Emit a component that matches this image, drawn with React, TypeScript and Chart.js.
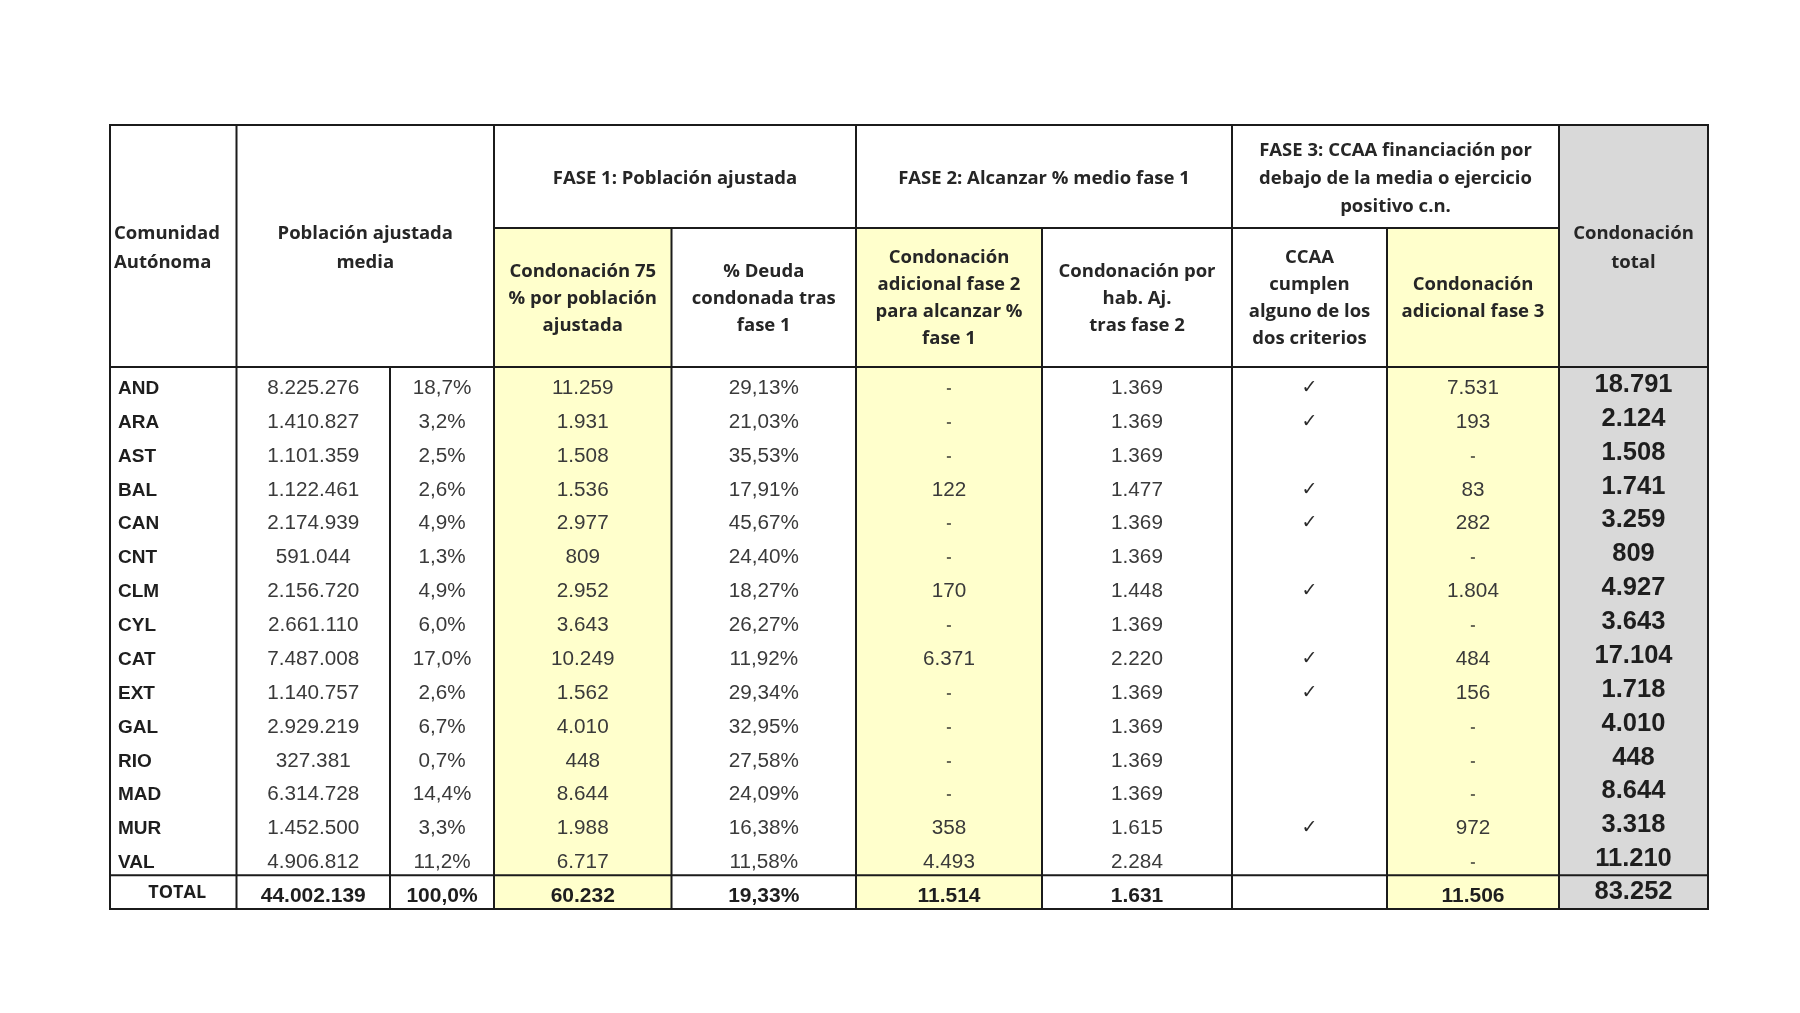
import { useEffect, useRef } from 'react';
import { Chart, registerables } from 'chart.js';

Chart.register(...registerables);

// ---------- DATA ----------
const regions = ['AND', 'ARA', 'AST', 'BAL', 'CAN', 'CNT', 'CLM', 'CYL', 'CAT', 'EXT', 'GAL', 'RIO', 'MAD', 'MUR', 'VAL'];
const poblacionAjustada = [8225276, 1410827, 1101359, 1122461, 2174939, 591044, 2156720, 2661110, 7487008, 1140757, 2929219, 327381, 6314728, 1452500, 4906812];
const pctPoblacion = [18.7, 3.2, 2.5, 2.6, 4.9, 1.3, 4.9, 6.0, 17.0, 2.6, 6.7, 0.7, 14.4, 3.3, 11.2];
const condonacionFase1 = [11259, 1931, 1508, 1536, 2977, 809, 2952, 3643, 10249, 1562, 4010, 448, 8644, 1988, 6717];
const pctDeudaFase1 = [29.13, 21.03, 35.53, 17.91, 45.67, 24.4, 18.27, 26.27, 11.92, 29.34, 32.95, 27.58, 24.09, 16.38, 11.58];
const condonacionFase2 = [null, null, null, 122, null, null, 170, null, 6371, null, null, null, null, 358, 4493];
const condonacionPorHab = [1369, 1369, 1369, 1477, 1369, 1369, 1448, 1369, 2220, 1369, 1369, 1369, 1369, 1615, 2284];
const cumpleCriterios = [true, true, false, true, true, false, true, false, true, true, false, false, false, true, false];
const condonacionFase3 = [7531, 193, null, 83, 282, null, 1804, null, 484, 156, null, null, null, 972, null];
const condonacionTotal = [18791, 2124, 1508, 1741, 3259, 809, 4927, 3643, 17104, 1718, 4010, 448, 8644, 3318, 11210];

const totalLabel = 'TOTAL';
const totalPoblacion = 44002139;
const totalPct = 100.0;
const totalFase1 = 60232;
const totalPctDeuda = 19.33;
const totalFase2 = 11514;
const totalPorHab = 1631;
const totalFase3 = 11506;
const totalCondonacion = 83252;

// header texts
const headComunidad = ['Comunidad', 'Autónoma'];
const headPoblacion = ['Población ajustada', 'media'];
const headFase1 = ['FASE 1: Población ajustada'];
const headFase2 = ['FASE 2: Alcanzar % medio fase 1'];
const headFase3 = ['FASE 3: CCAA financiación por', 'debajo de la media o ejercicio', 'positivo c.n.'];
const headTotal = ['Condonación', 'total'];
const headF1a = ['Condonación 75', '% por población', 'ajustada'];
const headF1b = ['% Deuda', 'condonada tras', 'fase 1'];
const headF2a = ['Condonación', 'adicional fase 2', 'para alcanzar %', 'fase 1'];
const headF2b = ['Condonación por', 'hab. Aj.', 'tras fase 2'];
const headF3a = ['CCAA', 'cumplen', 'alguno de los', 'dos criterios'];
const headF3b = ['Condonación', 'adicional fase 3'];

// ---------- LAYOUT (not data) ----------
const TABLE_W = 1598;
const colEdges = [0, 126.5, 280, 384, 561.5, 746, 932, 1122, 1277, 1449, TABLE_W];
const HEADER_TOP = 242;
const HEADER_MID = 139;
const YELLOW = '#FFFFCC';
const GREY = '#D9D9D9';
const LINE = '#1b1b1b';

const fmtInt = (n: number) => String(Math.round(n)).replace(/\B(?=(\d{3})+(?!\d))/g, '.');
const fmtPct = (v: number, d: number) => v.toFixed(d).replace('.', ',') + '%';

const rowLabels = [...regions, totalLabel];

const tablePlugin = {
  id: 'tablePlugin',
  afterDraw(chart: any) {
    const ctx: CanvasRenderingContext2D = chart.ctx;
    const xs = chart.scales.x;
    const ys = chart.scales.y;
    const X = (i: number) => xs.getPixelForValue(colEdges[i]);
    const CX = (i: number) => (X(i) + X(i + 1)) / 2;
    const area = chart.chartArea;
    const hb = area.top;
    const top = hb - HEADER_TOP;
    const mid = hb - HEADER_MID;
    const bottom = area.bottom;
    const band = ys.getPixelForValue(1) - ys.getPixelForValue(0);
    const totalTop = ys.getPixelForValue(rowLabels.length - 1) - band / 2;

    ctx.save();
    ctx.fillStyle = '#ffffff';
    ctx.fillRect(X(0), top, X(10) - X(0), bottom - top);
    ctx.fillStyle = YELLOW;
    [3, 5, 8].forEach((c) => ctx.fillRect(X(c), mid, X(c + 1) - X(c), bottom - mid));
    ctx.fillStyle = GREY;
    ctx.fillRect(X(9), top, X(10) - X(9), bottom - top);

    const headFont = 'bold 18.5px "Open Sans", Lato, sans-serif';
    const drawLines = (lines: string[], x: number, cy: number, align: CanvasTextAlign, lh = 27) => {
      ctx.textAlign = align;
      ctx.textBaseline = 'middle';
      const n = lines.length;
      lines.forEach((t, k) => ctx.fillText(t, x, cy + (k - (n - 1) / 2) * lh));
    };
    ctx.fillStyle = '#262626';
    ctx.font = headFont;
    const fullMid = (top + hb) / 2 + 2;
    const upMid = (top + mid) / 2 + 2;
    const lowMid = (mid + hb) / 2 + 1;
    drawLines(headComunidad, X(0) + 4, fullMid, 'left', 29);
    drawLines(headPoblacion, (X(1) + X(3)) / 2, fullMid, 'center', 29);
    drawLines(headFase1, (X(3) + X(5)) / 2, upMid, 'center');
    drawLines(headFase2, (X(5) + X(7)) / 2, upMid, 'center');
    drawLines(headFase3, (X(7) + X(9)) / 2, upMid, 'center', 28);
    drawLines(headTotal, CX(9), fullMid, 'center', 29);
    drawLines(headF1a, CX(3), lowMid, 'center');
    drawLines(headF1b, CX(4), lowMid, 'center');
    drawLines(headF2a, CX(5), lowMid, 'center');
    drawLines(headF2b, CX(6), lowMid, 'center');
    drawLines(headF3a, CX(7), lowMid, 'center');
    drawLines(headF3b, CX(8), lowMid, 'center');

    const dataFont = '20.7px "Liberation Sans", Arial, sans-serif';
    const dataColor = '#3a3a3a';
    const dash = (x: number, y: number) => {
      ctx.font = 'bold 16px "Liberation Sans", Arial, sans-serif';
      ctx.fillStyle = '#6a6a58';
      ctx.textAlign = 'center';
      ctx.fillText('-', x, y - 1);
    };
    regions.forEach((r, i) => {
      const cy = ys.getPixelForValue(i);
      const y = cy + 10;
      ctx.textBaseline = 'alphabetic';
      ctx.font = 'bold 19px "Liberation Sans", Arial, sans-serif';
      ctx.fillStyle = '#1e1e1e';
      ctx.textAlign = 'left';
      ctx.fillText(r, X(0) + 8, y);

      ctx.font = dataFont;
      ctx.fillStyle = dataColor;
      ctx.textAlign = 'center';
      ctx.fillText(fmtInt(poblacionAjustada[i]), CX(1), y);
      ctx.fillText(fmtPct(pctPoblacion[i], 1), CX(2), y);
      ctx.fillText(fmtInt(condonacionFase1[i]), CX(3), y);
      ctx.fillText(fmtPct(pctDeudaFase1[i], 2), CX(4), y);
      const f2 = condonacionFase2[i];
      if (f2 == null) dash(CX(5), y); else { ctx.font = dataFont; ctx.fillStyle = dataColor; ctx.fillText(fmtInt(f2), CX(5), y); }
      ctx.font = dataFont; ctx.fillStyle = dataColor; ctx.textAlign = 'center';
      ctx.fillText(fmtInt(condonacionPorHab[i]), CX(6), y);
      if (cumpleCriterios[i]) {
        ctx.font = '19px "DejaVu Sans", sans-serif';
        ctx.fillStyle = '#2a2a2a';
        ctx.fillText('✓', CX(7), y - 1);
      }
      const f3 = condonacionFase3[i];
      if (f3 == null) dash(CX(8), y); else { ctx.font = dataFont; ctx.fillStyle = dataColor; ctx.fillText(fmtInt(f3), CX(8), y); }
      ctx.font = 'bold 25.5px "Liberation Sans", Arial, sans-serif';
      ctx.fillStyle = '#1e1e1e';
      ctx.textAlign = 'center';
      ctx.fillText(fmtInt(condonacionTotal[i]), CX(9), y - 2);
    });

    const ty = ys.getPixelForValue(rowLabels.length - 1) + 10;
    ctx.textBaseline = 'alphabetic';
    ctx.textAlign = 'center';
    ctx.fillStyle = '#1e1e1e';
    ctx.font = 'bold 18px "Open Sans", Lato, sans-serif';
    ctx.fillText(totalLabel, CX(0) + 4, ty - 4);
    ctx.font = 'bold 21px "Liberation Sans", Arial, sans-serif';
    ctx.fillText(fmtInt(totalPoblacion), CX(1), ty);
    ctx.fillText(fmtPct(totalPct, 1), CX(2), ty);
    ctx.fillText(fmtInt(totalFase1), CX(3), ty);
    ctx.fillText(fmtPct(totalPctDeuda, 2), CX(4), ty);
    ctx.fillText(fmtInt(totalFase2), CX(5), ty);
    ctx.fillText(fmtInt(totalPorHab), CX(6), ty);
    ctx.fillText(fmtInt(totalFase3), CX(8), ty);
    ctx.font = 'bold 25.5px "Liberation Sans", Arial, sans-serif';
    ctx.fillText(fmtInt(totalCondonacion), CX(9), ty - 3);

    ctx.strokeStyle = LINE;
    ctx.lineWidth = 2;
    const h = (x1: number, x2: number, y: number) => { ctx.beginPath(); ctx.moveTo(x1, y); ctx.lineTo(x2, y); ctx.stroke(); };
    const v = (x: number, y1: number, y2: number) => { ctx.beginPath(); ctx.moveTo(x, y1); ctx.lineTo(x, y2); ctx.stroke(); };
    h(X(0) - 1, X(10) + 1, top);
    h(X(3), X(9), mid);
    h(X(0), X(10), hb);
    h(X(0), X(10), totalTop);
    h(X(0) - 1, X(10) + 1, bottom);
    [0, 1, 3, 5, 7, 9, 10].forEach((c) => v(X(c), top, bottom));
    [4, 6, 8].forEach((c) => v(X(c), mid, bottom));
    v(X(2), hb, bottom);
    ctx.restore();
  },
};

export default function App() {
  const ref = useRef<HTMLCanvasElement | null>(null);
  useEffect(() => {
    if (!ref.current) return;
    const chart = new Chart(ref.current, {
      type: 'bar',
      data: { labels: rowLabels, datasets: [{ data: [] as number[], backgroundColor: 'rgba(0,0,0,0)' }] },
      options: {
        animation: false,
        responsive: true,
        maintainAspectRatio: false,
        indexAxis: 'y',
        events: [],
        layout: { padding: { left: 110, right: 92, top: 367, bottom: 104 } },
        plugins: { legend: { display: false }, tooltip: { enabled: false } },
        scales: {
          x: { type: 'linear', min: 0, max: TABLE_W, display: false },
          y: { type: 'category', display: false, offset: true },
        },
      },
      plugins: [tablePlugin],
    } as any);
    return () => chart.destroy();
  }, []);
  return (
    <div style={{ position: 'fixed', left: 0, top: 0, width: '1800px', height: '1013px', background: '#ffffff' }}>
      <canvas ref={ref} style={{ display: 'block' }} />
    </div>
  );
}
